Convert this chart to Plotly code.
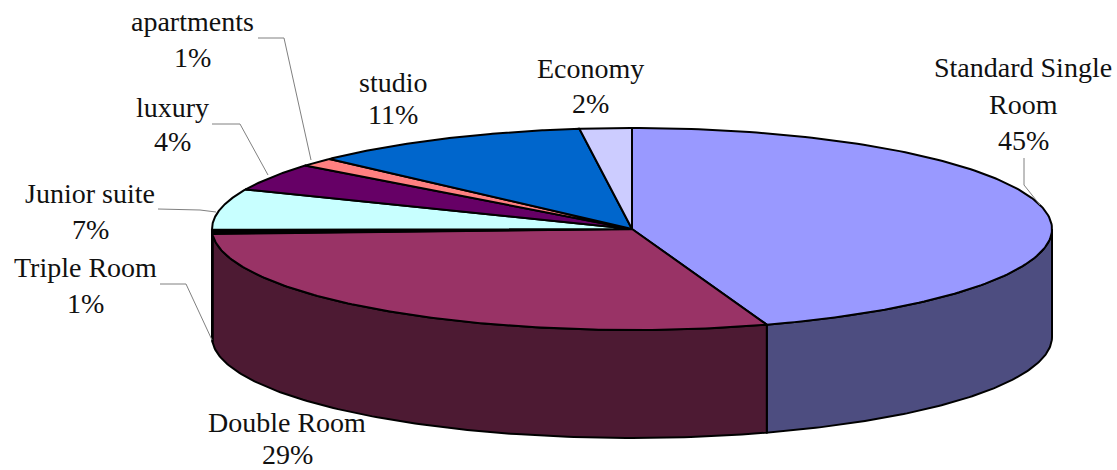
import numpy as np
import plotly.graph_objects as go

# Data (labels show these rounded to whole percent)
room_types = ["Standard Single Room", "Double Room", "Triple Room", "Junior suite",
              "luxury", "apartments", "studio", "Economy"]
shares = [44.8, 29.4, 0.6, 6.6, 4.4, 1.4, 10.8, 2.0]
top_colors = ["#9999FF", "#993366", "#000000", "#C8FFFF",
              "#660066", "#FF8080", "#0066CC", "#CCCCFF"]
side_colors = ["#4D4D80", "#4D1A33", "#000000", "#668080",
               "#330033", "#804040", "#003366", "#666680"]

# Geometry of the drawing, in page pixels
CX, CY, RX, RY, DEPTH = 632, 229, 420, 101, 108
W, H = 1117, 470

# Per-line label layout: (text, x, y)
name_lines = [
    ("Standard Single", 1023, 67), ("Room", 1023, 104),
    ("apartments", 192, 21), ("studio", 393, 82), ("Economy", 590, 68),
    ("luxury", 172, 107), ("Junior suite", 90, 193),
    ("Triple Room", 85, 267), ("Double Room", 287, 422),
]
pct_positions = {
    "Standard Single Room": (1023, 140), "apartments": (192, 57), "studio": (393, 114),
    "Economy": (590, 103), "luxury": (172, 141), "Junior suite": (90, 229),
    "Triple Room": (85, 303), "Double Room": (287, 454),
}
leaders = [
    "M258,38 L284,38 L311,160",
    "M212,124 L240,124 L268,175",
    "M158,209 L200,210 L216,212",
    "M160,284 L186,284 L212,340",
    "M1024,158 L1024,185 L1040,205",
]


def rim(t, dz=0.0):
    return CX + RX * np.sin(t), CY - RY * np.cos(t) + dz


fig = go.Figure()
total = sum(shares)
edges = np.concatenate([[0], np.cumsum(shares)]) / total * 2 * np.pi

# Side walls: only the front half of the rim is visible
for i in range(len(shares)):
    a, b = max(edges[i], np.pi / 2), min(edges[i + 1], 3 * np.pi / 2)
    if b <= a:
        continue
    t = np.linspace(a, b, 120)
    x1, y1 = rim(t)
    x2, y2 = rim(t[::-1], DEPTH)
    fig.add_trace(go.Scatter(
        x=np.r_[x1, x2, x1[0]], y=np.r_[y1, y2, y1[0]], mode="lines", fill="toself",
        fillcolor=side_colors[i], line=dict(color="black", width=2), hoverinfo="skip"))

# Top faces
for i in range(len(shares)):
    t = np.linspace(edges[i], edges[i + 1], 160)
    x, y = rim(t)
    fig.add_trace(go.Scatter(
        x=np.r_[CX, x, CX], y=np.r_[CY, y, CY], mode="lines", fill="toself",
        fillcolor=top_colors[i], line=dict(color="black", width=2),
        name=room_types[i], hoverinfo="name"))

annotations = []
font = dict(family="Liberation Serif", size=28, color="#111111")
for text, x, y in name_lines:
    annotations.append(dict(x=x, y=y, text=text, showarrow=False, font=font,
                            xanchor="center", yanchor="middle"))
for name, share in zip(room_types, shares):
    x, y = pct_positions[name]
    annotations.append(dict(x=x, y=y, text=f"{round(share)}%", showarrow=False, font=font,
                            xanchor="center", yanchor="middle"))

shapes = [dict(type="path", path=p, line=dict(color="#808080", width=1)) for p in leaders]

fig.update_layout(
    width=W, height=H, margin=dict(l=0, r=0, t=0, b=0), autosize=False,
    paper_bgcolor="white", plot_bgcolor="white", showlegend=False,
    xaxis=dict(range=[0, W], visible=False, fixedrange=True),
    yaxis=dict(range=[H, 0], visible=False, fixedrange=True),
    annotations=annotations, shapes=shapes,
)
fig.write_html("out.html", config=dict(displayModeBar=False),
               post_script="document.body.style.margin='0';document.documentElement.style.overflow='hidden';")
